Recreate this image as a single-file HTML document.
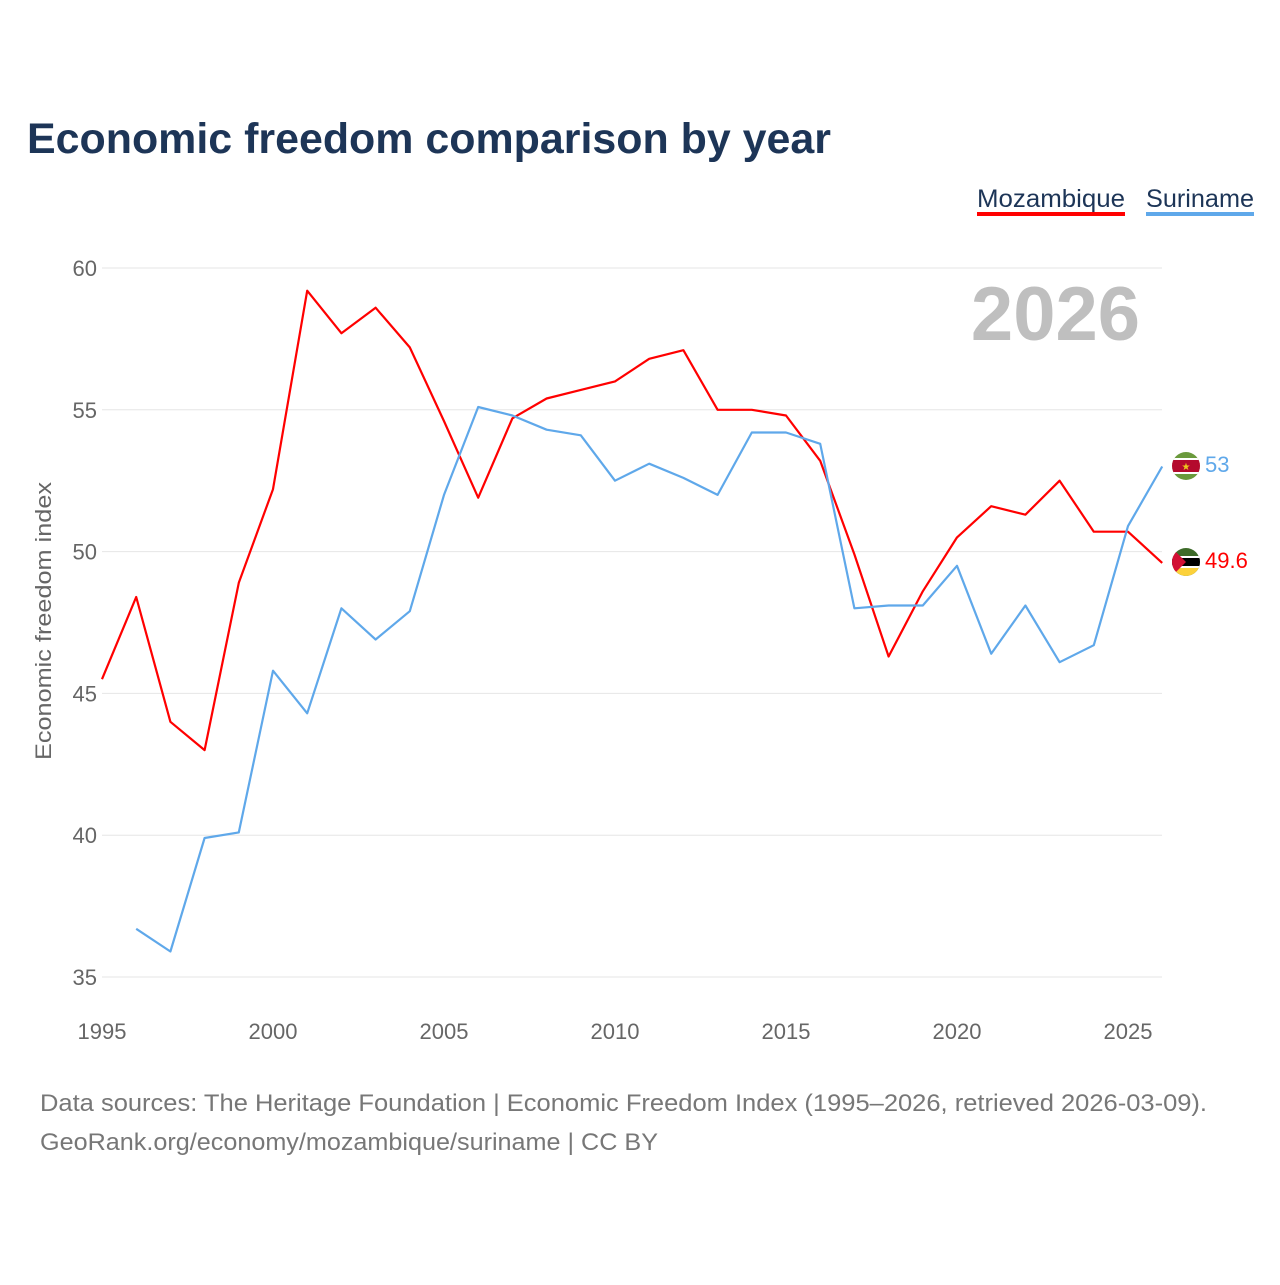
<!DOCTYPE html>
<html><head><meta charset="utf-8"><style>
body{margin:0;background:#fff;font-family:"Liberation Sans",sans-serif}
</style></head><body>
<svg id="chart" width="1280" height="1280" xmlns="http://www.w3.org/2000/svg" font-family="Liberation Sans, sans-serif">
<rect width="1280" height="1280" fill="#fff"/>
<text x="27" y="153" font-size="43" font-weight="bold" fill="#1d3557" textLength="804" lengthAdjust="spacingAndGlyphs">Economic freedom comparison by year</text>
<g><text x="977" y="207" font-size="25" fill="#1d3557" textLength="148" lengthAdjust="spacingAndGlyphs">Mozambique</text><rect x="977" y="212" width="148" height="4" fill="#ff0000"/></g>
<g><text x="1146" y="207" font-size="25" fill="#1d3557" textLength="108" lengthAdjust="spacingAndGlyphs">Suriname</text><rect x="1146" y="212" width="108" height="4" fill="#5fa8ea"/></g>
<text x="1140" y="340" text-anchor="end" font-size="76" font-weight="bold" fill="#bfbfbf">2026</text>
<g id="grid"></g><g id="xt"></g>
<text transform="translate(51,621) rotate(-90)" text-anchor="middle" font-size="22" fill="#666" textLength="278" lengthAdjust="spacingAndGlyphs">Economic freedom index</text>
<g id="lines"></g>
<g><clipPath id="c1"><circle cx="1186" cy="466" r="14"/></clipPath><g clip-path="url(#c1)"><rect x="1170" y="450" width="32" height="32" fill="#6a9a3c"/><rect x="1170" y="458" width="32" height="16" fill="#fff"/><rect x="1170" y="460" width="32" height="12" fill="#b40a2d"/><text x="1186" y="470" font-size="10" text-anchor="middle" fill="#ecc81d">★</text></g></g>
<g><clipPath id="c2"><circle cx="1186" cy="562" r="14"/></clipPath><g clip-path="url(#c2)"><rect x="1170" y="546" width="32" height="32" fill="#3e6b2a"/><rect x="1170" y="556" width="32" height="12" fill="#fff"/><rect x="1170" y="558" width="32" height="8" fill="#000"/><rect x="1170" y="568" width="32" height="10" fill="#fcd13a"/><path d="M1170 546 L1186 562 L1170 578Z" fill="#d21034"/></g></g>
<text x="1205" y="472" font-size="22" fill="#5fa8ea">53</text>
<text x="1205" y="568" font-size="22" fill="#ff0000">49.6</text>
<text x="40" y="1111" font-size="24" fill="#777" textLength="1167" lengthAdjust="spacingAndGlyphs">Data sources: The Heritage Foundation | Economic Freedom Index (1995–2026, retrieved 2026-03-09).</text>
<text x="40" y="1150" font-size="24" fill="#777" textLength="618" lengthAdjust="spacingAndGlyphs">GeoRank.org/economy/mozambique/suriname | CC BY</text>
</svg>
<script>
const years=[1995,1996,1997,1998,1999,2000,2001,2002,2003,2004,2005,2006,2007,2008,2009,2010,2011,2012,2013,2014,2015,2016,2017,2018,2019,2020,2021,2022,2023,2024,2025,2026];
const mozambique=[45.5,48.4,44.0,43.0,48.9,52.2,59.2,57.7,58.6,57.2,54.6,51.9,54.7,55.4,55.7,56.0,56.8,57.1,55.0,55.0,54.8,53.2,49.9,46.3,48.6,50.5,51.6,51.3,52.5,50.7,50.7,49.6];
const suriname=[null,36.7,35.9,39.9,40.1,45.8,44.3,48.0,46.9,47.9,52.0,55.1,54.8,54.3,54.1,52.5,53.1,52.6,52.0,54.2,54.2,53.8,48.0,48.1,48.1,49.5,46.4,48.1,46.1,46.7,50.9,53.0];
const yTicks=[35,40,45,50,55,60];
const xTicks=[1995,2000,2005,2010,2015,2020,2025];
const NS="http://www.w3.org/2000/svg";
const xs=y=>102+(y-1995)*(1128-102)/30;
const ys=v=>268+(60-v)*(977-268)/25;
function mk(t,a,p){const e=document.createElementNS(NS,t);for(const k in a)e.setAttribute(k,a[k]);p.appendChild(e);return e;}
const grid=document.getElementById('grid');
yTicks.forEach(v=>{
 const l=mk('line',{x1:102,x2:1162,y1:ys(v),y2:ys(v),stroke:'#e6e6e6','stroke-width':1},grid);
 
 
 const t=mk('text',{x:97,y:ys(v)+8,'text-anchor':'end','font-size':22,fill:'#666'},grid);
 t.textContent=v;
 
 
});
const xt=document.getElementById('xt');
xTicks.forEach(v=>{
 const t=mk('text',{x:xs(v),y:1039,'text-anchor':'middle','font-size':22,fill:'#666'},xt);
 t.textContent=v;
 
 
});
const lines=document.getElementById('lines');
function draw(vals,color,name){
 let d='',pen=false;
 vals.forEach((v,i)=>{if(v==null){pen=false;return;}d+=(pen?'L':'M')+xs(years[i]).toFixed(1)+' '+ys(v).toFixed(1);pen=true;});
 const p=mk('path',{d:d,fill:'none',stroke:color,'stroke-width':2.2,'stroke-linejoin':'round'},lines);
 
 
}
draw(mozambique,'#ff0000','mozambique-line');
draw(suriname,'#5fa8ea','suriname-line');
</script>
</body></html>
